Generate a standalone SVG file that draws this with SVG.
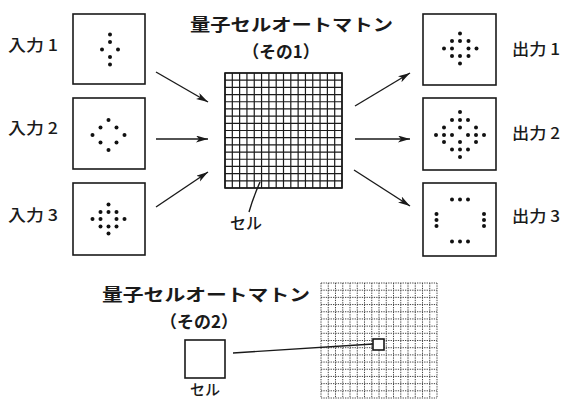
<svg xmlns="http://www.w3.org/2000/svg" width="565" height="401" viewBox="0 0 565 401">
<style>
.box{fill:#fff;stroke:#1a1a1a;stroke-width:1.6}
.dot{fill:#111}
.t{font-family:"Noto Sans CJK JP","Noto Sans",sans-serif;fill:#1a1a1a}
.title{font-size:17px;font-weight:bold}
.lbl{font-size:16px;font-weight:500}
.conn{stroke:#1a1a1a;stroke-width:1.4;fill:none}
.grid{stroke:#1a1a1a;stroke-width:1.2;fill:none}
.dgrid{stroke:#444;stroke-width:1;stroke-dasharray:1.3 1.1;fill:none}
</style>
<defs>
<marker id="ah" markerUnits="userSpaceOnUse" markerWidth="12" markerHeight="8" refX="12" refY="3.5" orient="auto">
<path d="M0,0 L12,3.5 L0,7 L3,3.5 z" fill="#1a1a1a"/>
</marker>
</defs>

<g id="title1">
<text class="t title" x="190" y="31" textLength="203" lengthAdjust="spacingAndGlyphs">量子セルオートマトン</text>
<text class="t title" x="281" y="58" text-anchor="middle" textLength="77" lengthAdjust="spacingAndGlyphs">（その1）</text>
</g>

<g id="in1">
<rect class="box" x="73" y="14" width="72" height="70"/>
<circle class="dot" cx="110" cy="34.5" r="2"/><circle class="dot" cx="110" cy="42" r="2"/>
<circle class="dot" cx="102" cy="49.5" r="2"/><circle class="dot" cx="118" cy="49.5" r="2"/>
<circle class="dot" cx="110" cy="57" r="2"/><circle class="dot" cx="110" cy="64.5" r="2"/>
<text class="t lbl" x="8" y="51" textLength="50" lengthAdjust="spacingAndGlyphs">入力 1</text>
</g>

<g id="in2">
<rect class="box" x="73" y="98" width="72" height="71"/>
<circle class="dot" cx="108.5" cy="120" r="2"/>
<circle class="dot" cx="100.5" cy="127.5" r="2"/><circle class="dot" cx="116.5" cy="127.5" r="2"/>
<circle class="dot" cx="92.5" cy="135" r="2"/><circle class="dot" cx="124.5" cy="135" r="2"/>
<circle class="dot" cx="100.5" cy="142.5" r="2"/><circle class="dot" cx="116.5" cy="142.5" r="2"/>
<circle class="dot" cx="108.5" cy="150" r="2"/>
<text class="t lbl" x="8" y="134" textLength="50" lengthAdjust="spacingAndGlyphs">入力 2</text>
</g>

<g id="in3">
<rect class="box" x="73" y="183" width="72" height="72"/>
<circle class="dot" cx="108.5" cy="204.5" r="2"/>
<circle class="dot" cx="100.5" cy="212" r="2"/><circle class="dot" cx="108.5" cy="212" r="2"/><circle class="dot" cx="116.5" cy="212" r="2"/>
<circle class="dot" cx="92.5" cy="219" r="2"/><circle class="dot" cx="100.5" cy="219" r="2"/><circle class="dot" cx="116.5" cy="219" r="2"/><circle class="dot" cx="124.5" cy="219" r="2"/>
<circle class="dot" cx="100.5" cy="226.5" r="2"/><circle class="dot" cx="108.5" cy="226.5" r="2"/><circle class="dot" cx="116.5" cy="226.5" r="2"/>
<circle class="dot" cx="108.5" cy="233.5" r="2"/>
<text class="t lbl" x="8" y="221" textLength="50" lengthAdjust="spacingAndGlyphs">入力 3</text>
</g>

<g id="automaton1">
<rect x="225" y="73" width="117" height="115" fill="#fff"/>
<path class="grid" d="M225 73V188M232.31 73V188M239.63 73V188M246.94 73V188M254.25 73V188M261.56 73V188M268.88 73V188M276.19 73V188M283.5 73V188M290.81 73V188M298.13 73V188M305.44 73V188M312.75 73V188M320.06 73V188M327.38 73V188M334.69 73V188M342 73V188M225 73H342M225 80.19H342M225 87.38H342M225 94.56H342M225 101.75H342M225 108.94H342M225 116.13H342M225 123.31H342M225 130.5H342M225 137.69H342M225 144.88H342M225 152.06H342M225 159.25H342M225 166.44H342M225 173.63H342M225 180.81H342M225 188H342"/>
<rect x="225" y="73" width="117" height="115" fill="none" stroke="#1a1a1a" stroke-width="1.6"/>
<path class="conn" d="M249 212 Q253 198 260 182"/>
<text class="t" x="246" y="229" font-size="16" font-weight="500" text-anchor="middle">セル</text>
</g>

<g id="out1">
<rect class="box" x="423" y="14" width="73" height="71"/>
<circle class="dot" cx="460" cy="33.5" r="2"/>
<circle class="dot" cx="452" cy="41" r="2"/><circle class="dot" cx="460" cy="41" r="2"/><circle class="dot" cx="468.5" cy="41" r="2"/>
<circle class="dot" cx="444" cy="48.5" r="2"/><circle class="dot" cx="452" cy="48.5" r="2"/><circle class="dot" cx="468.5" cy="48.5" r="2"/><circle class="dot" cx="476.5" cy="48.5" r="2"/>
<circle class="dot" cx="452" cy="56" r="2"/><circle class="dot" cx="460" cy="56" r="2"/><circle class="dot" cx="468.5" cy="56" r="2"/>
<circle class="dot" cx="460" cy="63.5" r="2"/>
<text class="t lbl" x="512" y="55" textLength="48" lengthAdjust="spacingAndGlyphs">出力 1</text>
</g>

<g id="out2">
<rect class="box" x="423" y="98" width="73" height="72"/>
<circle class="dot" cx="460" cy="112" r="2"/>
<circle class="dot" cx="452" cy="120" r="2"/><circle class="dot" cx="460" cy="120" r="2"/><circle class="dot" cx="468" cy="120" r="2"/>
<circle class="dot" cx="444" cy="127.5" r="2"/><circle class="dot" cx="460" cy="127.5" r="2"/><circle class="dot" cx="476" cy="127.5" r="2"/>
<circle class="dot" cx="436" cy="135" r="2"/><circle class="dot" cx="444" cy="135" r="2"/><circle class="dot" cx="452" cy="135" r="2"/><circle class="dot" cx="468" cy="135" r="2"/><circle class="dot" cx="476" cy="135" r="2"/><circle class="dot" cx="484" cy="135" r="2"/>
<circle class="dot" cx="444" cy="142" r="2"/><circle class="dot" cx="460" cy="142" r="2"/><circle class="dot" cx="476" cy="142" r="2"/>
<circle class="dot" cx="452" cy="149.5" r="2"/><circle class="dot" cx="460" cy="149.5" r="2"/><circle class="dot" cx="468" cy="149.5" r="2"/>
<circle class="dot" cx="460" cy="157" r="2"/>
<text class="t lbl" x="512" y="139" textLength="48" lengthAdjust="spacingAndGlyphs">出力 2</text>
</g>

<g id="out3">
<rect class="box" x="423" y="183" width="73" height="73"/>
<circle class="dot" cx="452" cy="199.5" r="2"/><circle class="dot" cx="460" cy="199.5" r="2"/><circle class="dot" cx="468" cy="199.5" r="2"/>
<circle class="dot" cx="452" cy="241.5" r="2"/><circle class="dot" cx="460" cy="241.5" r="2"/><circle class="dot" cx="468" cy="241.5" r="2"/>
<circle class="dot" cx="436.5" cy="214" r="2"/><circle class="dot" cx="436.5" cy="220" r="2"/><circle class="dot" cx="436.5" cy="226" r="2"/>
<circle class="dot" cx="484" cy="214" r="2"/><circle class="dot" cx="484" cy="220" r="2"/><circle class="dot" cx="484" cy="226" r="2"/>
<text class="t lbl" x="512" y="222" textLength="48" lengthAdjust="spacingAndGlyphs">出力 3</text>
</g>

<g id="title2">
<text class="t title" x="102" y="301" textLength="208" lengthAdjust="spacingAndGlyphs">量子セルオートマトン</text>
<text class="t title" x="199" y="328" text-anchor="middle" textLength="78" lengthAdjust="spacingAndGlyphs">（その2）</text>
</g>

<g id="cell2">
<rect class="box" x="185" y="340" width="40" height="38"/>
<text class="t" x="205" y="395" font-size="15" font-weight="500" text-anchor="middle">セル</text>
</g>

<g id="automaton2">
<path class="dgrid" d="M321 283V398M328.25 283V398M335.5 283V398M342.75 283V398M350 283V398M357.25 283V398M364.5 283V398M371.75 283V398M379 283V398M386.25 283V398M393.5 283V398M400.75 283V398M408 283V398M415.25 283V398M422.5 283V398M429.75 283V398M437 283V398M321 283H437M321 290.19H437M321 297.38H437M321 304.56H437M321 311.75H437M321 318.94H437M321 326.13H437M321 333.31H437M321 340.5H437M321 347.69H437M321 354.88H437M321 362.06H437M321 369.25H437M321 376.44H437M321 383.63H437M321 390.81H437M321 398H437"/>
<rect x="373" y="339" width="11" height="11" fill="#fff" stroke="#1a1a1a" stroke-width="1.6"/>
</g>

<g id="connectors">
<line class="conn" x1="156" y1="72" x2="208" y2="102" marker-end="url(#ah)"/>
<line class="conn" x1="156" y1="139" x2="208" y2="139" marker-end="url(#ah)"/>
<line class="conn" x1="156" y1="207" x2="208" y2="172" marker-end="url(#ah)"/>
<line class="conn" x1="355" y1="106" x2="410" y2="73" marker-end="url(#ah)"/>
<line class="conn" x1="355" y1="139" x2="410" y2="139" marker-end="url(#ah)"/>
<line class="conn" x1="354" y1="170" x2="410" y2="206" marker-end="url(#ah)"/>
<line class="conn" x1="233" y1="353" x2="373" y2="344"/>
</g>
</svg>
